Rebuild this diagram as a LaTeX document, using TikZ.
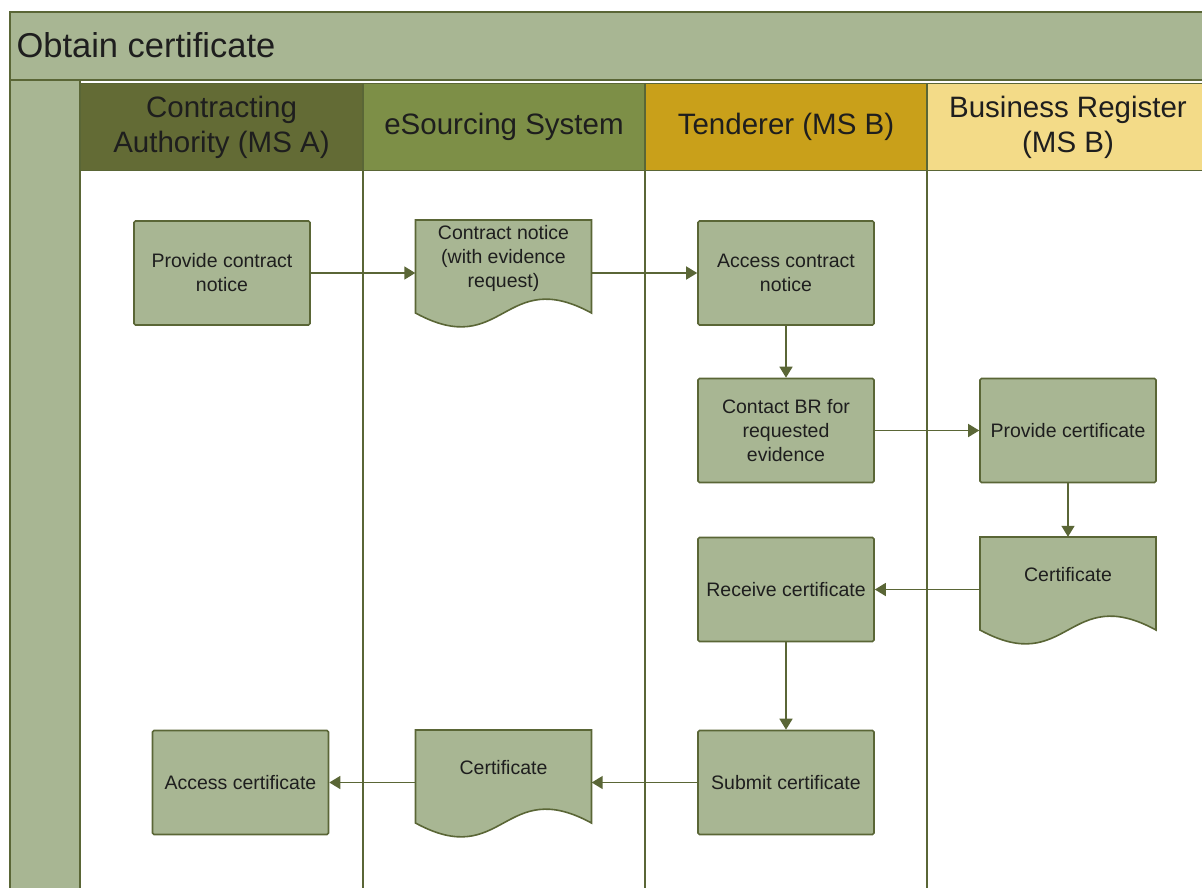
\documentclass[tikz,border=0pt]{standalone}
\usepackage{fontspec}
\setmainfont{Liberation Sans}
\usetikzlibrary{arrows.meta}

\definecolor{bandgreen}{HTML}{A8B693}
\definecolor{lineolive}{HTML}{5A6636}
\definecolor{inkgray}{HTML}{1E1E1E}
\definecolor{headA}{HTML}{636B35}
\definecolor{headB}{HTML}{7D8F47}
\definecolor{headC}{HTML}{C9A01A}
\definecolor{headD}{HTML}{F3DB88}

% document shape: name, x centre, top edge, text
\newcommand{\docnode}[4]{%
  \draw[docline] (#2-88,#3) -- (#2+88,#3) -- (#2+88,#3+93)
    .. controls (#2,#3+45) and (#2,#3+141) .. (#2-88,#3+93) -- cycle;
  \node[docbox] (#1) at (#2,#3+38) {#4};}

\begin{document}
\begin{tikzpicture}[x=1pt,y=-1pt,>={Triangle[length=11pt,width=13pt]},
 every node/.style={font=\fontsize{19.5}{24}\selectfont,text=inkgray},
 procbox/.style={draw=lineolive,line width=1.6pt,fill=bandgreen,rounded corners=1.5pt,
   minimum width=176pt,minimum height=104pt,align=center},
 docline/.style={draw=lineolive,line width=1.6pt,fill=bandgreen},
 docbox/.style={minimum width=176pt,minimum height=76pt,inner sep=0pt,align=center},
 lanehead/.style={draw=lineolive,line width=1.6pt,minimum width=282pt,minimum height=87pt,
   align=center,font=\fontsize{29.5}{35}\selectfont},
 flow/.style={->,draw=lineolive,line width=1.5pt}]
\useasboundingbox (0,0) rectangle (1202,887);

% pool frame
\draw[draw=lineolive,line width=1.8pt,fill=bandgreen] (10,12) rectangle (1220,80);
\node[anchor=west,font=\fontsize{34.5}{40}\selectfont] (title) at (13,45) {Obtain certificate};
\draw[draw=lineolive,line width=1.8pt,fill=bandgreen] (10,80) rectangle (80,900);

% lanes
\node[lanehead,fill=headA] (laneA) at (221.5,127) {Contracting\\Authority (MS A)};
\node[lanehead,fill=headB] (laneB) at (504,127) {eSourcing System};
\node[lanehead,fill=headC] (laneC) at (786,127) {Tenderer (MS B)};
\node[lanehead,fill=headD] (laneD) at (1068,127) {Business Register\\(MS B)};
\foreach \lx in {363,645,927}
  \draw[lineolive,line width=1.4pt] (\lx,170) -- (\lx,900);

% activities
\node[procbox] (pcn) at (222,273) {Provide contract\\notice};
\docnode{cn}{503.5}{220}{Contract notice\\(with evidence\\request)}
\node[procbox] (acn) at (786,273) {Access contract\\notice};
\node[procbox] (cbr) at (786,430.5) {Contact BR for\\requested\\evidence};
\node[procbox] (pc) at (1068,430.5) {Provide certificate};
\docnode{certbr}{1068}{537}{Certificate}
\node[procbox] (rc) at (786,589.5) {Receive certificate};
\node[procbox] (sc) at (786,782.5) {Submit certificate};
\docnode{certes}{503.5}{730}{Certificate}
\node[procbox] (ac) at (240.5,782.5) {Access certificate};

% flows
\draw[flow] (pcn.east) -- (pcn.east -| cn.west);
\draw[flow] (cn.east |- acn.west) -- (acn.west);
\draw[flow] (acn.south) -- (cbr.north);
\draw[flow] (cbr.east) -- (pc.west);
\draw[flow] (pc.south) -- (certbr.north);
\draw[flow] (certbr.west |- rc.east) -- (rc.east);
\draw[flow] (rc.south) -- (sc.north);
\draw[flow] (sc.west) -- (sc.west -| certes.east);
\draw[flow] (certes.west |- ac.east) -- (ac.east);
\end{tikzpicture}
\end{document}
